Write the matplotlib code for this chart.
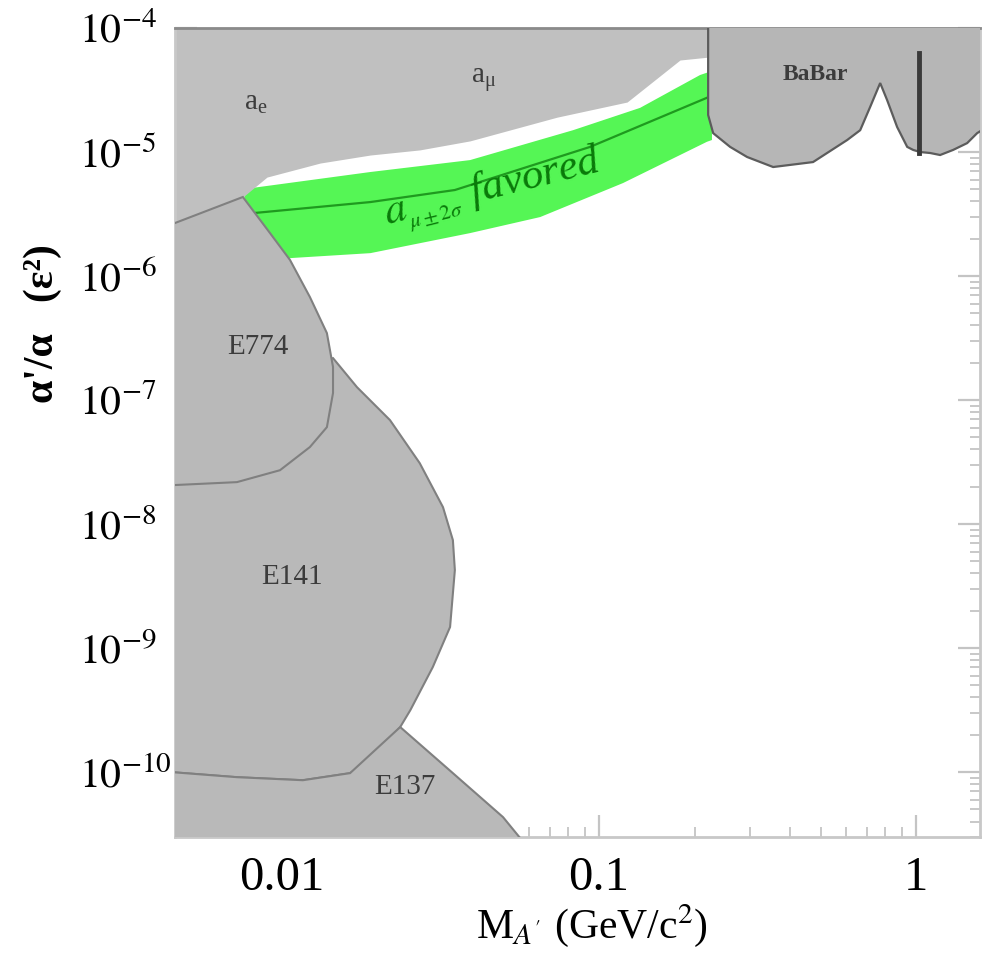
import numpy as np
import matplotlib
matplotlib.use('Agg')
import matplotlib.pyplot as plt
from matplotlib.ticker import LogLocator, NullFormatter

plt.rcParams['font.family'] = ['Liberation Serif', 'DejaVu Serif']
plt.rcParams['mathtext.fontset'] = 'stix'

# boundaries, mass in GeV, coupling alpha'/alpha
amu_x = [0.0045, 0.00753, 0.00897, 0.0132, 0.0190, 0.0272, 0.0392, 0.0737, 0.1226, 0.180, 0.222]
amu_y = [2.62e-6, 4.34e-6, 6.28e-6, 8.15e-6, 9.46e-6, 1.04e-5, 1.23e-5, 1.91e-5, 2.53e-5, 5.52e-5, 5.83e-5]

green_top_x = [0.00764, 0.0190, 0.0392, 0.0828, 0.1347, 0.2083, 0.227]
green_top_y = [5.04e-6, 6.90e-6, 8.61e-6, 1.50e-5, 2.27e-5, 4.18e-5, 4.50e-5]
green_bot_x = [0.00737, 0.01083, 0.0190, 0.0392, 0.0652, 0.119, 0.219, 0.227]
green_bot_y = [1.30e-6, 1.40e-6, 1.53e-6, 2.22e-6, 2.99e-6, 5.62e-6, 1.21e-5, 1.25e-5]
green_mid_x = [0.00753, 0.0190, 0.0351, 0.0937, 0.222]
green_mid_y = [3.16e-6, 3.95e-6, 4.94e-6, 1.10e-5, 2.78e-5]

e774_x = [0.0045, 0.00753, 0.00917, 0.01060, 0.01225, 0.01386, 0.01449, 0.01449,
          0.01386, 0.01225, 0.00986, 0.00721, 0.0045]
e774_y = [2.62e-6, 4.34e-6, 2.22e-6, 1.35e-6, 6.78e-7, 3.47e-7, 1.85e-7, 1.14e-7,
          6.05e-8, 4.18e-8, 2.72e-8, 2.18e-8, 2.06e-8]

e141_x = [0.01449, 0.01725, 0.02191, 0.0272, 0.0322, 0.0346, 0.0351, 0.0339, 0.0299,
          0.0254, 0.0236, 0.0190, 0.0164, 0.01164, 0.00721, 0.0045, 0.0045]
e141_y = [2.18e-7, 1.27e-7, 6.90e-8, 3.10e-8, 1.37e-8, 7.43e-9, 4.26e-9, 1.48e-9, 7.03e-10,
          3.16e-10, 2.31e-10, 1.25e-10, 9.82e-11, 8.61e-11, 9.11e-11, 1.0e-10, 1.0e-7]

e137_x = [0.0045, 0.00721, 0.01164, 0.0164, 0.0236, 0.0346, 0.0498, 0.0606, 0.0045]
e137_y = [1.0e-10, 9.11e-11, 8.61e-11, 9.82e-11, 2.31e-10, 9.82e-11, 4.34e-11, 2.35e-11, 2.35e-11]

babar_x = [0.2208, 0.2208, 0.229, 0.259, 0.293, 0.354, 0.473, 0.606, 0.666, 0.716, 0.770,
           0.810, 0.871, 0.937, 0.978, 1.029, 1.107, 1.190, 1.308, 1.448, 1.557, 1.71, 1.71]
babar_y = [1.2e-4, 1.99e-5, 1.42e-5, 1.10e-5, 9.12e-6, 7.57e-6, 8.30e-6, 1.25e-5, 1.50e-5,
           2.31e-5, 3.60e-5, 2.62e-5, 1.59e-5, 1.10e-5, 1.04e-5, 1.0e-5, 9.82e-6, 9.46e-6,
           1.04e-5, 1.18e-5, 1.42e-5, 1.65e-5, 1.2e-4]

phi_mass = 1.022
phi_y = [6.28e-5, 9.8e-6]

xtick_vals = [0.01, 0.1, 1]
xtick_labels = ['0.01', '0.1', '1']
ytick_vals = [1e-10, 1e-9, 1e-8, 1e-7, 1e-6, 1e-5, 1e-4]
ytick_labels = [r'$10^{-10}$', r'$10^{-9}$', r'$10^{-8}$', r'$10^{-7}$',
                r'$10^{-6}$', r'$10^{-5}$', r'$10^{-4}$']

fig = plt.figure(figsize=(9.82, 9.59), dpi=100)
ax = fig.add_axes([0.1782, 0.1272, 0.8198, 0.8436])
ax.set_xscale('log')
ax.set_yscale('log')
ax.set_xlim(0.0046, 1.59)
ax.set_ylim(3e-11, 1e-4)

gray = '#b9b9b9'
edge = '#808080'

# green band first, the gray regions sit on top of it
ax.fill(green_top_x + green_bot_x[::-1], green_top_y + green_bot_y[::-1],
        color='#55f655', lw=0, zorder=1)
ax.plot(green_mid_x, green_mid_y, color='#1f9a1f', lw=1.6, zorder=1.5)

ax.fill_between(amu_x, amu_y, 2e-4, color='#c0c0c0', lw=0, zorder=2)
ax.fill(e141_x, e141_y, facecolor=gray, edgecolor=edge, lw=1.5, zorder=3)
ax.fill(e137_x, e137_y, facecolor=gray, edgecolor=edge, lw=1.5, zorder=3.1)
ax.fill(e774_x, e774_y, facecolor=gray, edgecolor=edge, lw=1.5, zorder=3.2)
ax.fill(babar_x, babar_y, facecolor='#b6b6b6', edgecolor='#5c5c5c', lw=1.6, zorder=3)
ax.plot([phi_mass, phi_mass], phi_y, color='#3a3a3a', lw=3.5, zorder=3.5)

lab = dict(color='#3c3c3c', ha='center', va='center', zorder=5)
ax.text(0.00828, 2.48e-5, r'$\mathregular{a_e}$', fontsize=21, **lab)
ax.text(0.0434, 3.81e-5, r'$\mathregular{a_\mu}$', fontsize=21, **lab)
ax.text(0.480, 4.18e-5, 'BaBar', fontsize=17, fontweight='bold', **lab)
ax.text(0.00840, 2.67e-7, 'E774', fontsize=21, **lab)
ax.text(0.01076, 3.74e-9, 'E141', fontsize=21, **lab)
ax.text(0.0244, 7.57e-11, 'E137', fontsize=21, **lab)

ax.text(0.02145, 2.6e-6, r'$a_{_{\mu\pm2\sigma}}$ favored', fontsize=31, fontstyle='italic',
        color='#0a7a0a', rotation=14, rotation_mode='anchor', ha='left', va='baseline',
        zorder=4)

ax.set_xticks(xtick_vals, xtick_labels)
ax.set_yticks(ytick_vals, ytick_labels)
ax.xaxis.set_minor_locator(LogLocator(base=10, subs=range(2, 10), numticks=100))
ax.yaxis.set_minor_locator(LogLocator(base=10, subs=range(2, 10), numticks=100))
ax.xaxis.set_minor_formatter(NullFormatter())
ax.yaxis.set_minor_formatter(NullFormatter())
ax.tick_params(which='both', direction='in', top=True, right=True, color='#c4c4c4')
ax.tick_params(which='major', length=16, width=1.6)
ax.tick_params(which='minor', length=7, width=1.3)
ax.tick_params(axis='x', which='major', pad=14, labelsize=35)
ax.tick_params(axis='y', which='major', pad=69, labelsize=30)
for t in ax.get_yticklabels():
    t.set_horizontalalignment('left')

for s in ax.spines.values():
    s.set_color('#c8c8c8')
    s.set_linewidth(2)
ax.spines['top'].set_color('#8a8a8a')

ax.set_xlabel(r"M$_{A'}$ (GeV/c$^2$)", fontsize=30)
ax.xaxis.set_label_coords(0.518, -0.08)
ax.set_ylabel("α'/α   (ε²)", fontsize=30, fontweight='bold')
ax.yaxis.set_label_coords(-0.14, 0.635)

fig.savefig('out.png', dpi=100)
